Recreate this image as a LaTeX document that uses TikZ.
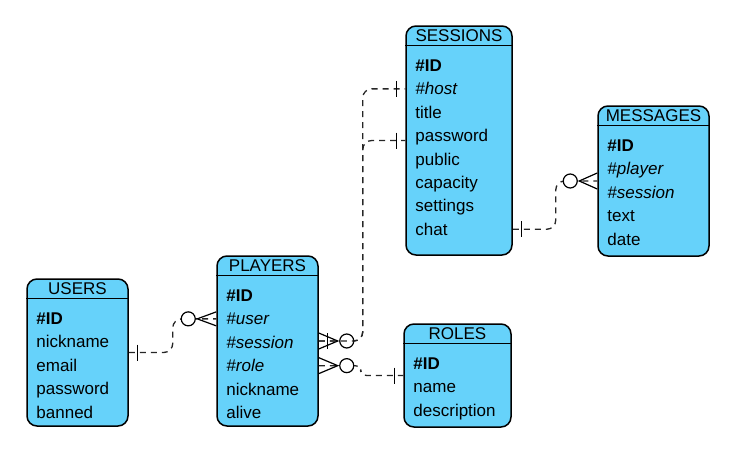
\documentclass[tikz,border=0pt]{standalone}
\usepackage{fontspec}
\setmainfont{Liberation Sans}
\usetikzlibrary{calc}
\usetikzlibrary{positioning}
\definecolor{tableblue}{HTML}{66D2FA}

\begin{document}
\begin{tikzpicture}[x=1pt,y=-1pt,font=\fontsize{17}{20}\selectfont]
  \tikzstyle{table}=[rectangle,rounded corners=10pt,draw=black,line width=1.5pt,fill=tableblue]
  \tikzstyle{title}=[inner sep=0pt,text height=12pt,text depth=0pt]
  \tikzstyle{field}=[rectangle,inner xsep=0pt,inner ysep=3.5pt,text width=90pt,align=left,text height=14pt,text depth=2pt,node distance=0pt]
  \tikzstyle{relation}=[draw=black!85,line width=1.3pt,dash pattern=on 6pt off 5pt,rounded corners=9pt]
  \tikzstyle{endmark}=[draw=black,line width=1.2pt]

  \useasboundingbox (0,0) rectangle (740,453);

  % tables
  \node[table,minimum width=101pt,minimum height=147pt] at (77.5,352.5)  (users)    {};
  \node[table,minimum width=101pt,minimum height=170pt] at (267.5,341)   (players)  {};
  \node[table,minimum width=106pt,minimum height=229pt] at (459,140.5)   (sessions) {};
  \node[table,minimum width=111pt,minimum height=150pt] at (653.5,181)   (messages) {};
  \node[table,minimum width=107pt,minimum height=103pt] at (457.5,375.5) (roles)    {};

  \foreach \t in {users,players,sessions,messages,roles}
    \draw[line width=1.5pt] ([yshift=-20pt]\t.north west) -- ([yshift=-20pt]\t.north east);

  \node[title,below=4.5pt of users.north]    (users-title)    {USERS};
  \node[title,below=4.5pt of players.north]  (players-title)  {PLAYERS};
  \node[title,below=4.5pt of sessions.north] (sessions-title) {SESSIONS};
  \node[title,below=4.5pt of messages.north] (messages-title) {MESSAGES};
  \node[title,below=4.5pt of roles.north]    (roles-title)    {ROLES};

  % USERS
  \node[field,below right=28.5pt and 10pt of users.north west] (users-id) {\textbf{\#ID}};
  \node[field,below=of users-id]    (users-nick)   {nickname};
  \node[field,below=of users-nick]  (users-email)  {email};
  \node[field,below=of users-email] (users-pass)   {password};
  \node[field,below=of users-pass]  (users-banned) {banned};

  % PLAYERS
  \node[field,below right=28.5pt and 10pt of players.north west] (players-id) {\textbf{\#ID}};
  \node[field,below=of players-id]      (players-user)    {\textit{\#user}};
  \node[field,below=of players-user]    (players-session) {\textit{\#session}};
  \node[field,below=of players-session] (players-role)    {\textit{\#role}};
  \node[field,below=of players-role]    (players-nick)    {nickname};
  \node[field,below=of players-nick]    (players-alive)   {alive};

  % SESSIONS
  \node[field,below right=28.5pt and 10pt of sessions.north west] (sessions-id) {\textbf{\#ID}};
  \node[field,below=of sessions-id]       (sessions-host)     {\textit{\#host}};
  \node[field,below=of sessions-host]     (sessions-title2)   {title};
  \node[field,below=of sessions-title2]   (sessions-pass)     {password};
  \node[field,below=of sessions-pass]     (sessions-public)   {public};
  \node[field,below=of sessions-public]   (sessions-capacity) {capacity};
  \node[field,below=of sessions-capacity] (sessions-settings) {settings};
  \node[field,below=of sessions-settings] (sessions-chat)     {chat};

  % MESSAGES
  \node[field,below right=28.5pt and 10pt of messages.north west] (messages-id) {\textbf{\#ID}};
  \node[field,below=of messages-id]      (messages-player)  {\textit{\#player}};
  \node[field,below=of messages-player]  (messages-session) {\textit{\#session}};
  \node[field,below=of messages-session] (messages-text)    {text};
  \node[field,below=of messages-text]    (messages-date)    {date};

  % ROLES
  \node[field,below right=28.5pt and 10pt of roles.north west] (roles-id) {\textbf{\#ID}};
  \node[field,below=of roles-id]   (roles-name) {name};
  \node[field,below=of roles-name] (roles-desc) {description};

  % end points
  \coordinate (u-in)   at (players.west |- players-user);
  \coordinate (p-bend) at ($(players.east)+(44,0)$);
  \coordinate (h-in)   at (sessions.west |- sessions-host);
  \coordinate (r-out)  at (players.east |- players-role);
  \coordinate (c-out)  at (sessions.east |- sessions-chat);

  % USERS -- PLAYERS
  \draw[relation] (users.east) -- ++(44,0) |- (u-in);
  \draw[endmark] ([xshift=9pt]users.east) ++(0,-8) -- ++(0,16);
  \draw[endmark] ([yshift=7pt]u-in) -- ([xshift=-19pt]u-in) -- ([yshift=-7pt]u-in);
  \draw[endmark,fill=white] ([xshift=-28pt]u-in) circle (7pt);

  % PLAYERS -- SESSIONS
  \draw[relation] (players.east) -- (p-bend) |- (h-in);
  \draw[endmark] ([xshift=-9pt]h-in) ++(0,-8) -- ++(0,16);
  \draw[endmark] ([yshift=8pt]players.east) -- ([xshift=19pt]players.east) -- ([yshift=-8pt]players.east);
  \draw[endmark,fill=white] ([xshift=28pt]players.east) circle (7pt);
  \draw[relation] (players.east) -- (p-bend) |- (sessions.west);
  \draw[endmark] ([xshift=-9pt]sessions.west) ++(0,-8) -- ++(0,16);
  \draw[endmark] ([xshift=9pt]players.east) ++(0,-8) -- ++(0,16);

  % PLAYERS -- ROLES
  \draw[relation,rounded corners=6pt] (r-out) -- ++(42,0) |- (roles.west);
  \draw[endmark] ([yshift=8pt]r-out) -- ([xshift=19pt]r-out) -- ([yshift=-8pt]r-out);
  \draw[endmark,fill=white] ([xshift=28pt]r-out) circle (7pt);
  \draw[endmark] ([xshift=-9pt]roles.west) ++(0,-8) -- ++(0,16);

  % SESSIONS -- MESSAGES
  \draw[relation] (c-out) -- ++(43,0) |- (messages.west);
  \draw[endmark] ([xshift=9pt]c-out) ++(0,-8) -- ++(0,16);
  \draw[endmark] ([yshift=8pt]messages.west) -- ([xshift=-18pt]messages.west) -- ([yshift=-8pt]messages.west);
  \draw[endmark,fill=white] ([xshift=-27pt]messages.west) circle (7pt);
\end{tikzpicture}
\end{document}
